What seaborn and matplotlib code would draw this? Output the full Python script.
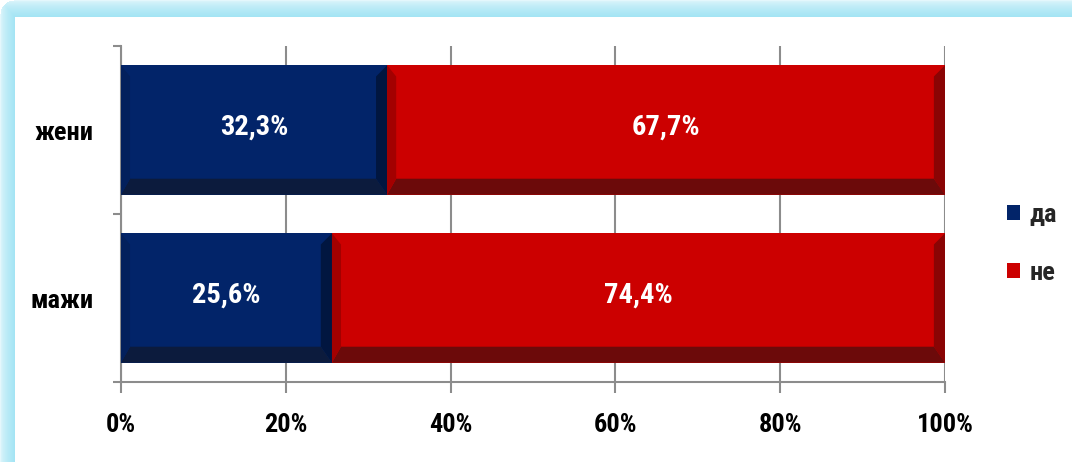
import matplotlib
matplotlib.use("Agg")
import matplotlib.pyplot as plt
import seaborn as sns
import pandas as pd
import numpy as np
from matplotlib.patches import Polygon, Patch

categories = ["жени", "мажи"]
da_values = [32.3, 25.6]
ne_values = [67.7, 74.4]
series_names = ["да", "не"]
x_ticks = [0, 20, 40, 60, 80, 100]
x_tick_labels = ["0%", "20%", "40%", "60%", "80%", "100%"]
labels_da = ["32,3%", "25,6%"]
labels_ne = ["67,7%", "74,4%"]

BLUE = "#022469"
BLUE_R = "#011640"
BLUE_B = "#0c1b3d"
BLUE_L = "#03205c"
RED = "#cc0000"
RED_R = "#8a0404"
RED_B = "#6c0a0a"
RED_L = "#a30000"
GRID = "#8c8c8c"
FONT = ["Roboto Condensed", "Liberation Sans", "DejaVu Sans"]

df = pd.DataFrame({"category": categories, "da": da_values, "ne": ne_values})
df["total"] = df["da"] + df["ne"]

sns.set_theme(style="white")
plt.rcParams['font.family'] = FONT

W, H = 1072, 462
fig = plt.figure(figsize=(W / 100, H / 100), dpi=100)
fig.patch.set_facecolor("white")

# light cyan frame (top and left bands) as a background image
yy, xx = np.mgrid[0:H, 0:W].astype(float)
d = np.minimum(yy / 17.0, xx / 15.0)
r = 14.0
corner = (xx < r) & (yy < r)
dist_c = np.sqrt((xx - r) ** 2 + (yy - r) ** 2)
outside = corner & (dist_c > r)
band = (d < 1.0) & ~outside
t = np.clip(d, 0, 1)
c_out = np.array([0xe4, 0xf7, 0xfc]) / 255
c_in = np.array([0xa2, 0xe4, 0xf4]) / 255
img = np.ones((H, W, 3))
mix = c_out[None, None, :] * (1 - t[..., None] ** 0.6) + c_in[None, None, :] * (t[..., None] ** 0.6)
img[band] = mix[band]
bg = fig.add_axes([0, 0, 1, 1], zorder=-10)
bg.imshow(img, aspect="auto", interpolation="bilinear")
bg.set_axis_off()

ax = fig.add_axes([121 / W, 80 / H, 824 / W, 336 / H])
ax.set_facecolor("none")

sns.barplot(data=df, y="category", x="total", color=RED, saturation=1,
            width=0.77, edgecolor="none", linewidth=0, ax=ax, zorder=2)
sns.barplot(data=df, y="category", x="da", color=BLUE, saturation=1,
            width=0.77, edgecolor="none", linewidth=0, ax=ax, zorder=3)

ax.set_xlim(0, 100)
ax.set_ylim(1.5, -0.5)

dx = 1.35
dxl = 1.1
dy = 0.095


def bevel(x0, x1, y0, y1, cr, cb, cl, z):
    ax.add_patch(Polygon([(x1, y0), (x1 - dx, y0 + dy * 0.7), (x1 - dx, y1 - dy), (x1, y1)],
                         closed=True, facecolor=cr, edgecolor="none", zorder=z))
    ax.add_patch(Polygon([(x0, y1), (x0 + dxl, y1 - dy), (x1 - dx, y1 - dy), (x1, y1)],
                         closed=True, facecolor=cb, edgecolor="none", zorder=z))
    ax.add_patch(Polygon([(x0, y0), (x0 + dxl, y0 + dy * 0.7), (x0 + dxl, y1 - dy), (x0, y1)],
                         closed=True, facecolor=cl, edgecolor="none", zorder=z))


red_bars = ax.containers[0]
blue_bars = ax.containers[1]
for i, (rb, bb) in enumerate(zip(red_bars, blue_bars)):
    y0 = bb.get_y()
    y1 = y0 + bb.get_height()
    bx0 = bb.get_x()
    bx1 = bx0 + bb.get_width()
    rx1 = rb.get_x() + rb.get_width()
    bevel(bx0, bx1, y0, y1, BLUE_R, BLUE_B, BLUE_L, 4)
    bevel(bx1, rx1, y0, y1, RED_R, RED_B, RED_L, 4)
    yc = (y0 + y1) / 2
    ax.text((bx0 + bx1) / 2, yc - 0.02, labels_da[i], color="white", ha="center", va="center",
            fontsize=20.5, fontweight="bold", zorder=5)
    ax.text((bx1 + rx1) / 2, yc - 0.02, labels_ne[i], color="white", ha="center", va="center",
            fontsize=20.5, fontweight="bold", zorder=5)

for s in ["top", "right"]:
    ax.spines[s].set_visible(False)
for s in ["left", "bottom"]:
    ax.spines[s].set_color(GRID)
    ax.spines[s].set_linewidth(1.5)
    ax.spines[s].set_zorder(1)

ax.set_xticks(x_ticks)
ax.set_xticklabels(x_tick_labels)
ax.xaxis.grid(True, color=GRID, linewidth=1.5, zorder=1)
ax.set_axisbelow(True)
ax.tick_params(axis="x", direction="out", length=8, width=1.5, color=GRID, pad=14,
               labelsize=19, bottom=True)
for t in ax.get_xticklabels():
    t.set_fontweight("bold")
    t.set_color("black")

ax.set_yticks([-0.5, 0.5, 1.5])
ax.set_yticklabels(["", "", ""])
ax.set_yticks([0, 1], minor=True)
ax.set_yticklabels(categories, minor=True)
ax.tick_params(axis="y", which="major", direction="out", length=6, width=1.5, color=GRID, left=True)
ax.tick_params(axis="y", which="minor", length=0, pad=20, labelsize=19)
for t in ax.get_yticklabels(minor=True):
    t.set_fontweight("bold")
    t.set_color("black")

ax.set_xlabel("")
ax.set_ylabel("")

handles = [Patch(facecolor=BLUE, edgecolor="none"), Patch(facecolor=RED, edgecolor="none")]
leg = fig.legend(handles, series_names, loc="center left",
                 bbox_to_anchor=(1007 / W, 1 - 244 / H), frameon=False, borderpad=0,
                 borderaxespad=0, handlelength=0.5, handleheight=0.5, handletextpad=0.35,
                 labelspacing=1.3, prop={"size": 19, "weight": "bold", "family": FONT})

fig.savefig("out.png", dpi=100, facecolor="white")
